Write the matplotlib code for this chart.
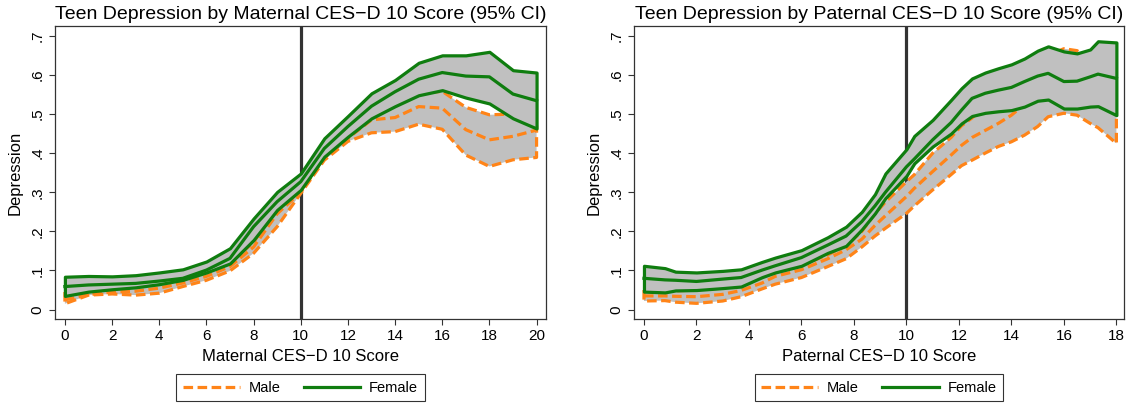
import matplotlib
matplotlib.use("Agg")
import matplotlib.pyplot as plt
from matplotlib.lines import Line2D

plt.rcParams["font.family"] = ["Liberation Sans", "DejaVu Sans"]

# ---- maternal panel (x = 0..20) ----
mat_x = list(range(21))
mat_f_hi = [.084, .086, .085, .088, .095, .103, .123, .157, .233, .301, .348,
            .438, .495, .553, .587, .631, .650, .650, .659, .612, .606]
mat_f_mid = [.059, .063, .065, .067, .073, .080, .101, .131, .212, .276, .327,
             .412, .468, .520, .557, .589, .606, .597, .595, .551, .534]
mat_f_lo = [.035, .046, .052, .057, .065, .076, .095, .118, .178, .255, .306,
            .391, .442, .489, .520, .548, .561, .542, .527, .489, .463]
mat_m_hi = [.045, .050, .055, .058, .066, .078, .096, .120, .172, .262, .312,
            .395, .450, .505, .530, .553, .558, .517, .498, .500, .470]
mat_m_mid = [.025, .038, .045, .047, .055, .068, .085, .110, .160, .245, .300,
             .388, .438, .485, .491, .519, .515, .460, .434, .443, .459]
mat_m_lo = [.015, .037, .040, .037, .042, .059, .075, .099, .144, .212, .297,
            .382, .430, .452, .455, .474, .461, .395, .366, .383, .389]

# ---- paternal panel (x = 0..18) ----
pat_x = [0, 0.8, 1.2, 2, 3, 3.7, 4.5, 5, 6, 7, 7.7, 8.3, 8.8, 9.2, 10, 10.3,
         11, 11.7, 12.1, 12.5, 13, 13.5, 14, 14.5, 15, 15.4, 16, 16.5, 17, 17.3, 18]
pat_f_hi = [.112, .106, .097, .095, .099, .103, .122, .133, .152, .185, .212, .250,
            .295, .348, .410, .444, .485, .536, .566, .591, .606, .617, .627, .642,
            .662, .673, .660, .655, .665, .686, .683]
pat_f_mid = [.080, .076, .075, .072, .078, .082, .101, .112, .133, .165, .188, .225,
             .265, .300, .365, .385, .434, .478, .510, .540, .553, .561, .568, .583,
             .597, .604, .583, .584, .595, .602, .591]
pat_f_lo = [.046, .044, .049, .050, .055, .059, .083, .095, .112, .145, .163, .205,
            .246, .285, .342, .374, .417, .450, .476, .495, .503, .507, .510, .519,
            .534, .537, .514, .514, .519, .520, .497]
pat_m_hi = [.050, .048, .048, .050, .056, .065, .088, .097, .113, .140, .163, .200,
            .245, .275, .327, .345, .400, .440, .470, .490, .520, .540, .560, .590,
            .620, .650, .667, .662, .640, .625, .600]
pat_m_mid = [.035, .035, .034, .033, .039, .049, .068, .085, .102, .130, .153, .180,
             .215, .240, .289, .310, .353, .395, .420, .440, .458, .476, .497, .525,
             .550, .570, .585, .575, .555, .540, .510]
pat_m_lo = [.022, .023, .019, .016, .022, .033, .053, .065, .082, .110, .130, .160,
            .188, .208, .246, .265, .306, .345, .368, .382, .400, .417, .429, .446,
            .468, .493, .502, .497, .476, .465, .425]

ytick_vals = [0, .1, .2, .3, .4, .5, .6, .7]
ytick_labels = ["0", ".1", ".2", ".3", ".4", ".5", ".6", ".7"]

GREEN = "#0f7d0f"
ORANGE = "#ff8418"
GRAY = "#c0c0c0"
DASH = (0, (3, 1.4))


def draw_panel(ax, x, f_hi, f_mid, f_lo, m_hi, m_mid, m_lo, title, xlabel, xticks, xlim):
    ax.axvline(10, color="#333333", lw=2.3, zorder=1)
    # male band then female band on top
    ax.fill_between(x, m_lo, m_hi, facecolor=GRAY, edgecolor=ORANGE,
                    linewidth=2.3, linestyle=DASH, zorder=2)
    ax.plot(x, m_mid, color=ORANGE, lw=2.3, linestyle=DASH, zorder=3)
    ax.fill_between(x, f_lo, f_hi, facecolor=GRAY, edgecolor=GREEN,
                    linewidth=2.3, zorder=4)
    ax.plot(x, f_mid, color=GREEN, lw=2.3, zorder=5)

    ax.set_xlim(*xlim)
    ax.set_ylim(-0.024, 0.725)
    ax.set_xticks(xticks)
    ax.set_yticks(ytick_vals)
    ax.set_yticklabels(ytick_labels, rotation=90, va="center")
    ax.tick_params(labelsize=11, length=4, width=0.8, color="#333333")
    for s in ax.spines.values():
        s.set_color("#333333")
        s.set_linewidth(0.9)
    ax.set_title(title, fontsize=14, pad=5)
    ax.set_xlabel(xlabel, fontsize=12, labelpad=4)
    ax.set_ylabel("Depression", fontsize=12, labelpad=6)

    handles = [Line2D([], [], color=ORANGE, lw=2.3, linestyle=DASH),
               Line2D([], [], color=GREEN, lw=2.3)]
    leg = ax.legend(handles, ["Male", "Female"], loc="upper center",
                    bbox_to_anchor=(0.5, -0.188), ncol=2, fontsize=10.5,
                    frameon=True, fancybox=False, borderaxespad=0,
                    handlelength=3.9, handletextpad=0.6, columnspacing=1.6,
                    borderpad=0.45)
    leg.get_frame().set_edgecolor("black")
    leg.get_frame().set_linewidth(0.8)


fig = plt.figure(figsize=(11.28, 4.05), dpi=100)
ax1 = fig.add_axes([55 / 1128, 86 / 405, 491 / 1128, 293 / 405])
ax2 = fig.add_axes([634 / 1128, 86 / 405, 490 / 1128, 293 / 405])

draw_panel(ax1, mat_x, mat_f_hi, mat_f_mid, mat_f_lo, mat_m_hi, mat_m_mid, mat_m_lo,
           "Teen Depression by Maternal CES\u2212D 10 Score (95% CI)",
           "Maternal CES\u2212D 10 Score", list(range(0, 21, 2)), (-0.42, 20.4))
draw_panel(ax2, pat_x, pat_f_hi, pat_f_mid, pat_f_lo, pat_m_hi, pat_m_mid, pat_m_lo,
           "Teen Depression by Paternal CES\u2212D 10 Score (95% CI)",
           "Paternal CES\u2212D 10 Score", list(range(0, 19, 2)), (-0.38, 18.29))

fig.savefig("out.png", dpi=100)
